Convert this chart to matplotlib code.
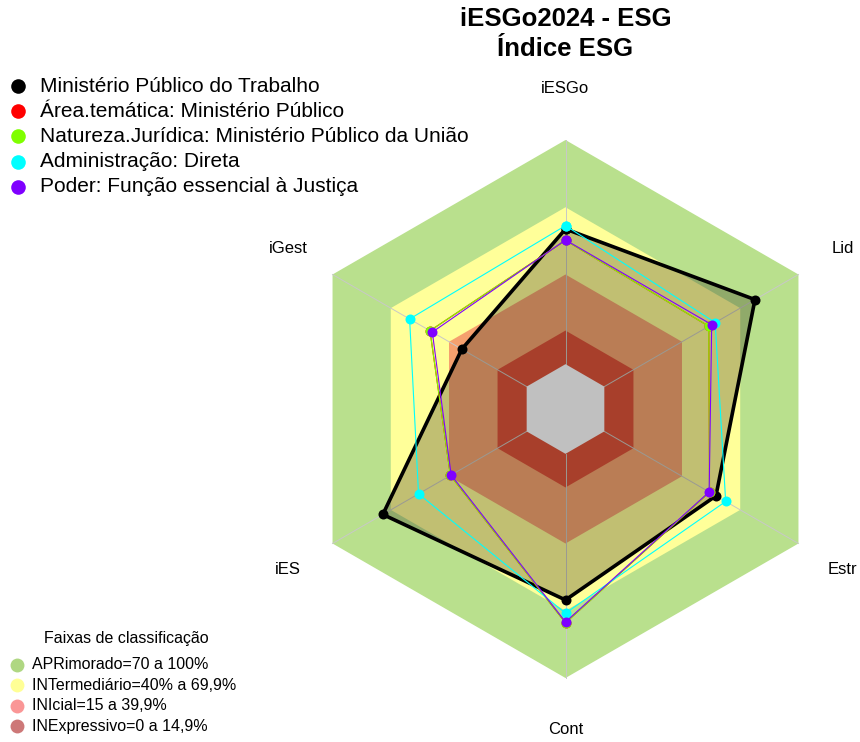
import numpy as np
import matplotlib
matplotlib.use("Agg")
import matplotlib.pyplot as plt
from matplotlib.lines import Line2D

plt.rcParams['font.family'] = ['Liberation Sans', 'DejaVu Sans']

# ---------------- data ----------------
axes_labels = ["iESGo", "Lid", "Estr", "Cont", "iES", "iGest"]

series_names = [
    "Ministério Público do Trabalho",
    "Área.temática: Ministério Público",
    "Natureza.Jurídica: Ministério Público da União",
    "Administração: Direta",
    "Poder: Função essencial à Justiça",
]
series_colors = ["#000000", "#FF0000", "#7FFF00", "#00FFFF", "#7F00FF"]

mpt_values = [60.3, 77.6, 57.5, 65.2, 74.1, 33.4]
area_values = [55.2, 53.8, 54.2, 75.4, 39.3, 49.8]
natureza_values = [55.2, 53.8, 54.2, 75.4, 39.3, 49.8]
admin_values = [61.8, 57.1, 62.5, 71.1, 55.7, 60.3]
poder_values = [55.4, 55.3, 54.0, 75.0, 38.9, 48.6]

band_limits = [100, 70, 40, 15]
band_colors = ["#B9E08D", "#FFFF99", "#F5A06E", "#DC4632"]
band_legend_labels = ["APRimorado=70 a 100%", "INTermediário=40% a 69,9%",
                      "INIcial=15 a 39,9%", "INExpressivo=0 a 14,9%"]
band_legend_colors = ["#AFD782", "#FFFF96", "#FA9696", "#CD7878"]

title_lines = ["iESGo2024 - ESG", "Índice ESG"]
legend_title = "Faixas de classificação"

# ---------------- figure ----------------
W, H = 860, 742
fig = plt.figure(figsize=(W / 100, H / 100), dpi=100)

cx, cy, R = 565.5, 409, 269
ax = fig.add_axes([(cx - R) / W, (H - cy - R) / H, 2 * R / W, 2 * R / H],
                  projection='polar')
ax.set_theta_zero_location('N')
ax.set_theta_direction(-1)
ax.set_ylim(0, 100)
ax.set_rorigin(-20)
ax.set_axis_off()

n = len(axes_labels)
theta = np.arange(n) * 2 * np.pi / n
theta_c = np.append(theta, theta[0])


def close(v):
    return np.append(v, v[0])


# bands
for lim, col in zip(band_limits, band_colors):
    ax.fill(theta_c, [lim] * (n + 1), color=col, lw=0, zorder=1, clip_on=False)

# spokes
for t in theta:
    ax.plot([t, t], [0, 100], color="#C8C8C8", lw=0.7, zorder=2, clip_on=False)

# filled polygon for main series
ax.fill(theta_c, close(mpt_values), color=(55 / 255, 50 / 255, 30 / 255),
        alpha=0.31, lw=0, zorder=3, clip_on=False)

# main series (drawn first)
ax.plot(theta_c, close(mpt_values), color="#000000", lw=2.6, marker='o',
        ms=7.2, mew=0, zorder=4, clip_on=False)

# thin series
for vals, col, z in [(area_values, series_colors[1], 5),
                     (natureza_values, series_colors[2], 6),
                     (admin_values, series_colors[3], 7),
                     (poder_values, series_colors[4], 8)]:
    ax.plot(theta_c, close(vals), color=col, lw=0.8, marker='o', ms=7.2,
            mec=col, mew=0, zorder=z, clip_on=False)

# grey center
ax.fill(theta_c, [0] * (n + 1), color="#C0C0C0", lw=0, zorder=9, clip_on=False)

# axis labels
for t, lab in zip(theta, axes_labels):
    ax.text(t, 122.8, lab, ha='center', va='center', fontsize=12)

# title
fig.text(cx / W, 1 - 19 / H, title_lines[0], ha='center', va='center',
         fontsize=18.5, fontweight='bold')
fig.text(cx / W, 1 - 49 / H, title_lines[1], ha='center', va='center',
         fontsize=18.5, fontweight='bold')

# top legend
for i, (name, col) in enumerate(zip(series_names, series_colors)):
    y = 1 - (86 + i * 25.2) / H
    fig.add_artist(Line2D([18 / W], [y], marker='o', ms=10.5, color=col,
                          mew=0, ls='none', transform=fig.transFigure))
    fig.text(40 / W, y, name, ha='left', va='center', fontsize=15)

# bottom legend
fig.text(126 / W, 1 - 638 / H, legend_title, ha='center', va='center',
         fontsize=11.5)
for i, (lab, col) in enumerate(zip(band_legend_labels, band_legend_colors)):
    y = 1 - (664.5 + i * 20.6) / H
    fig.add_artist(Line2D([17 / W], [y], marker='o', ms=10, color=col,
                          mew=0, ls='none', transform=fig.transFigure))
    fig.text(32 / W, y, lab, ha='left', va='center', fontsize=11.5)

fig.savefig("out.png", dpi=100, facecolor='white')
